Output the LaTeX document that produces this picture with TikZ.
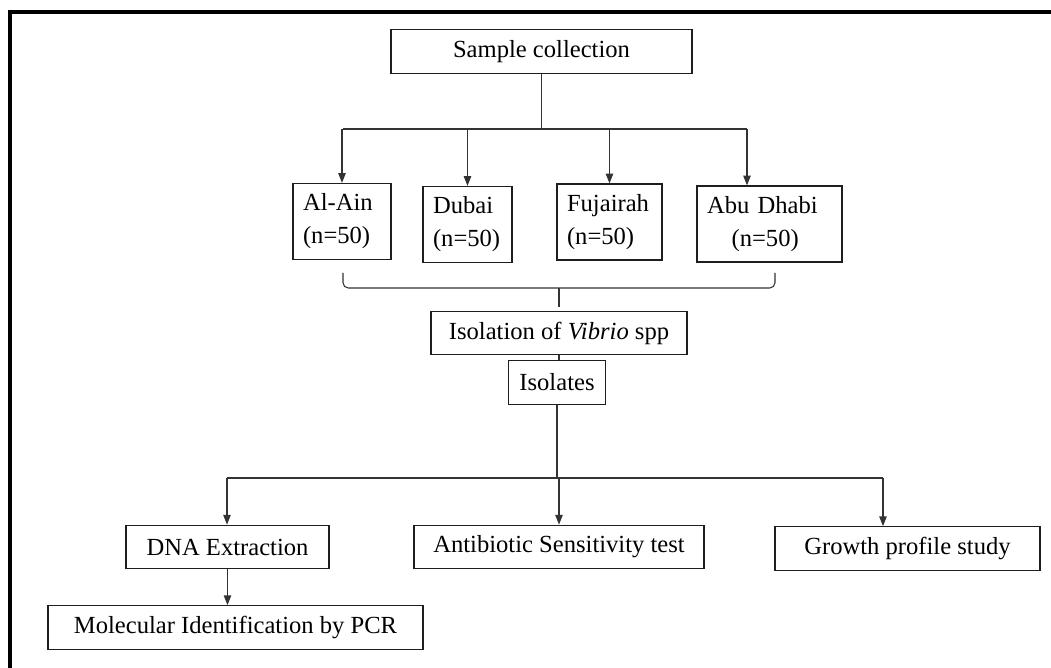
\documentclass[tikz,border=0pt]{standalone}
\usepackage{fontspec}
\setmainfont{Liberation Serif}
\usepackage{tikz}
\usetikzlibrary{positioning,arrows.meta}
\usepackage{xcolor}
\definecolor{ink}{HTML}{1E1E1E}
\definecolor{wire}{HTML}{333333}
\tikzset{
  stage/.style={draw=ink, line width=0.7pt, inner sep=0pt, minimum height=0.87cm,
    font=\fontsize{14}{18.8}\selectfont},
  site/.style={stage, align=left, inner xsep=0.2cm, minimum height=1.52cm},
  link/.style={draw=wire, line width=0.6pt}
}

\begin{document}
\begin{tikzpicture}[x=0.02cm, y=-0.02cm, >={Triangle[length=5.5pt,width=4.2pt]}]
        \useasboundingbox (0,0) rectangle (1051,668);
        % open frame, only top and left edges show
        \draw[line width=1.8pt] (10,668) |- (1051,12);
        % boxes
        \node[stage, minimum width=6.02cm] (sample) at (541.5,51.5) {Sample collection};
        \node[site, text width=1.56cm] (alain) at (342,221.5) {Al-Ain\\(n=50)};
        \node[site, text width=1.38cm] (dubai) at (467.5,224.5) {Dubai\\(n=50)};
        \node[site, text width=1.70cm] (fuj) at (609.5,222) {Fujairah\\(n=50)};
        \node[site, text width=2.50cm] (abu) at (769.5,224) {Abu Dhabi\\\hspace*{1em}(n=50)};
        \node[stage, minimum width=5.12cm] (isolation) at (559,333) {Isolation of \textit{Vibrio} spp};
        \node[stage, minimum width=1.94cm] (isolates) at (557,382.5) {Isolates};
        \node[stage, minimum width=4.06cm] (dna) at (227.5,547) {DNA Extraction};
        \node[stage, minimum width=5.80cm] (anti) at (559,547) {Antibiotic Sensitivity test};
        \node[stage, minimum width=5.30cm] (growth) at (907.5,548.5) {Growth profile study};
        \node[stage, minimum width=7.50cm] (mol) at (235.5,627.5) {Molecular Identification by PCR};
        % sample collection to the four sites
        \coordinate (busL) at (343,129);
        \coordinate (busR) at (747,129);
        \draw[link] (sample.south) -- (sample.south |- busL);
        \draw[link] (busL) -- (busR);
        \foreach \s in {alain,dubai,fuj}
          \draw[link,->] (\s.north |- busL) -- (\s.north);
        \draw[link,->] (busR) -- (busR |- abu.north);
        % bracket gathering the sites
        \coordinate (brL) at (343,273);
        \coordinate (brR) at (775,273);
        \coordinate (brM) at (559,288);
        \draw[link, rounded corners=3pt] (brL) |- (brM) -| (brR);
        \draw[link, shorten >=0.08cm] (brM) -- (isolation.north);
        \draw[link] (isolation.south) -- (isolation.south |- isolates.north);
        % isolates to the three studies
        \coordinate (bus2L) at (227,478);
        \coordinate (bus2R) at (883,478);
        \draw[link] (isolates.south) -- (isolates.south |- bus2L);
        \draw[link] (bus2L) -- (bus2R);
        \draw[link,->] (bus2L) -- (bus2L |- dna.north);
        \draw[link,->] (anti.north |- bus2L) -- (anti.north);
        \draw[link,->] (bus2R) -- (bus2R |- growth.north);
        \draw[link,->] (dna.south) -- (dna.south |- mol.north);
      \end{tikzpicture}
\end{document}
